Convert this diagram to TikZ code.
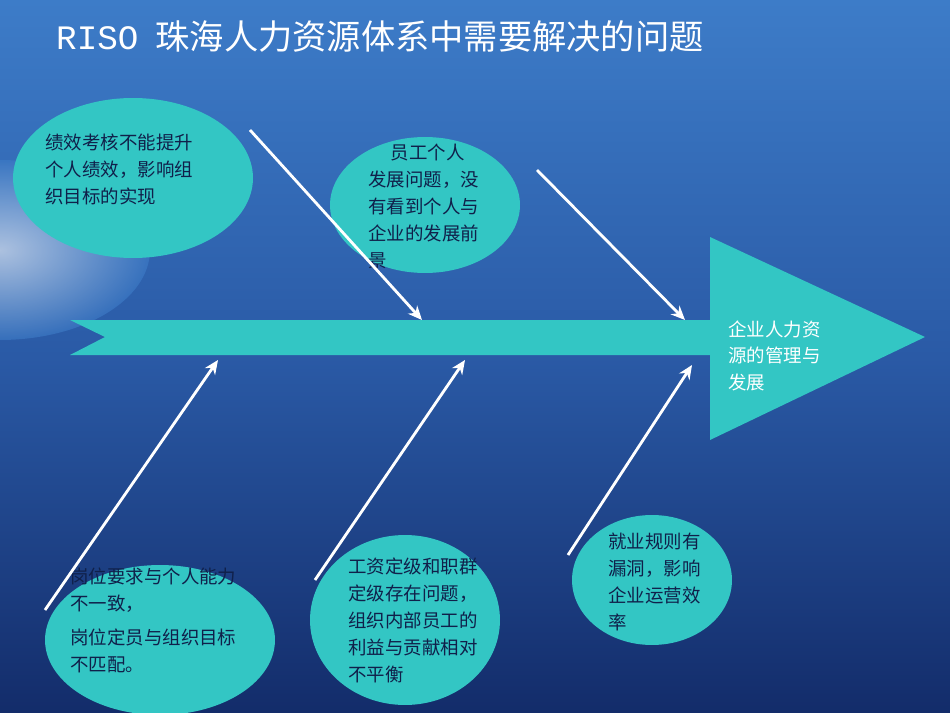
\documentclass[tikz,border=0pt]{standalone}
\usepackage{fontspec}
\setmainfont{Noto Sans CJK SC}
\usetikzlibrary{arrows.meta,shapes.geometric}
\definecolor{teal1}{HTML}{33C6C4}
\definecolor{ink}{HTML}{10204A}
\definecolor{skytop}{HTML}{3D7CC8}
\definecolor{skymid}{HTML}{2A5AA6}
\definecolor{seabot}{HTML}{132C6A}
\begin{document}
\begin{tikzpicture}[x=0.02cm,y=-0.02cm,
  oval/.style={ellipse,fill=teal1,draw=none},
  txt/.style={text=ink,font=\fontsize{10.5}{15.3}\selectfont,align=left,anchor=north west,inner sep=0pt},
  ray/.style={draw=white,line width=1.6pt,-{Stealth[length=8pt,width=7pt]}}]
  \useasboundingbox (0,0) rectangle (950,713);
  % background
  \shade[top color=skytop,bottom color=seabot,middle color=skymid] (0,0) rectangle (950,713);
  \begin{scope}
    \clip (0,0) rectangle (950,713);
    \shade[inner color=white,outer color=skytop,opacity=0.6] (0,250) ellipse (3cm and 1.8cm);
  \end{scope}
  \node[anchor=west,text=white,font=\fontsize{19.5}{22}\selectfont] (title) at (50,36)
    {\fontspec{Liberation Mono}RISO\enspace\normalfont 珠海人力资源体系中需要解决的问题};
  % spine
  \fill[teal1] (70,320) -- (710,320) -- (710,237) -- (925,337) -- (710,440) -- (710,355)
    -- (70,355) -- (105,337) -- cycle;
  \node[anchor=north west,text=white,font=\fontsize{10.5}{15.3}\selectfont,align=left,inner sep=0pt] (goal) at (728,320)
    {企业人力资\\源的管理与\\发展};
  % causes
  \node[oval,minimum width=4.8cm,minimum height=3.2cm] (e1) at (133,178) {};
  \node[txt] (t1) at (45,134) {绩效考核不能提升\\个人绩效，影响组\\织目标的实现};
  \node[oval,minimum width=3.8cm,minimum height=2.72cm] (e2) at (425,205) {};
  \node[txt] (t2) at (368,144) {\quad\ 员工个人\\发展问题，没\\有看到个人与\\企业的发展前\\景};
  \node[oval,minimum width=4.6cm,minimum height=3cm] (e3) at (160,640) {};
  \node[txt] (t3) at (70,568) {岗位要求与个人能力\\不一致，\\[4pt]岗位定员与组织目标\\不匹配。};
  \node[oval,minimum width=3.8cm,minimum height=3.4cm] (e4) at (405,620) {};
  \node[txt] (t4) at (348,558) {工资定级和职群\\定级存在问题，\\组织内部员工的\\利益与贡献相对\\不平衡};
  \node[oval,minimum width=3.2cm,minimum height=2.6cm] (e5) at (652,580) {};
  \node[txt] (t5) at (608,533) {就业规则有\\漏洞，影响\\企业运营效\\率};
  % arrows
  \coordinate (a1) at (250,130); \coordinate (b1) at (422,320);
  \coordinate (a2) at (537,170); \coordinate (b2) at (685,320);
  \coordinate (a3) at (45,610);  \coordinate (b3) at (218,360);
  \coordinate (a4) at (315,580); \coordinate (b4) at (465,360);
  \coordinate (a5) at (568,555); \coordinate (b5) at (692,365);
  \foreach \i in {1,...,5}
    \draw[ray] (a\i) -- (b\i);
\end{tikzpicture}
\end{document}
